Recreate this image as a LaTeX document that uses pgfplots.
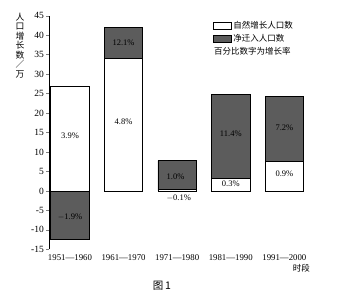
\documentclass[border=0pt]{standalone}
\usepackage{fontspec}
\setmainfont{Liberation Serif}
\newfontfamily\cjk{Noto Sans CJK SC}
\usepackage{pgfplots}
\pgfplotsset{compat=1.18}
\definecolor{mig}{gray}{0.36}
\begin{document}
\begin{tikzpicture}
\useasboundingbox (0pt,0pt) rectangle (360pt,298pt);
\begin{axis}[
  at={(49.3pt,48.7pt)}, anchor=south west,
  x=53.6pt, y=3.89pt,
  xmin=-0.386, xmax=4.6, ymin=-15, ymax=45,
  axis lines*=left,
  x axis line style={draw=none},
  xtick={0,1,2,3,4},
  xticklabels={1951—1960,1961—1970,1971—1980,1981—1990,1991—2000},
  xtick style={draw=none},
  ytick={-15,-10,...,45},
  tick align=outside,
  major tick length=3pt,
  ytick style={line width=0.6pt},
  axis line style={line width=0.7pt},
  /pgf/number format/assume math mode=true,
  yticklabel style={font=\fontsize{9.5}{10}\selectfont, xshift=1pt},
  xticklabel style={font=\fontsize{8.8}{10}\selectfont, yshift=1pt},
  clip=false,
  ybar, bar width=38.5pt, bar shift=0pt,
  legend style={at={(0.612,0.985)}, anchor=north west, draw=none, fill=none,
    inner sep=0pt, row sep=2pt, font=\cjk\fontsize{8.5}{9}\selectfont,
    nodes={inner sep=1.5pt}},
  legend cell align=left,
]
\addlegendimage{legend image code/.code={\draw[fill=white,draw=black,line width=0.7pt] (0pt,-3.5pt) rectangle (18pt,3.5pt);}}
\addlegendentry{自然增长人口数}
\addlegendimage{legend image code/.code={\draw[fill=mig,draw=black,line width=0.7pt] (0pt,-3.5pt) rectangle (18pt,3.5pt);}}
\addlegendentry{净迁入人口数}
% total (natural + net in-migration), dark
\addplot[forget plot, fill=mig, draw=black, line width=0.8pt]
  coordinates {(0,-12.5) (1,42) (2,7.8) (3,24.8) (4,24.4)};
% natural increase, white
\addplot[forget plot, fill=white, draw=black, line width=0.8pt]
  coordinates {(0,27) (1,34) (2,0.4) (3,3.1) (4,7.5)};
\begin{scope}[every node/.style={font=\fontsize{8.5}{10}\selectfont, inner sep=0pt}]
\node at (axis cs:0,14.1) {3.9\%};
\node at (axis cs:0,-6.6) {$-$1.9\%};
\node at (axis cs:1,17.8) {4.8\%};
\node at (axis cs:1,38) {12.1\%};
\node at (axis cs:1.97,3.7) {1.0\%};
\node at (axis cs:2.03,-1.9) {$-$0.1\%};
\node at (axis cs:3,14.8) {11.4\%};
\node at (axis cs:3,1.8) {0.3\%};
\node at (axis cs:4,16.2) {7.2\%};
\node at (axis cs:4,4.3) {0.9\%};
\end{scope}
\node[anchor=west, inner sep=0pt, font=\cjk\fontsize{8.5}{9}\selectfont] at (axis cs:2.687,35.86) {百分比数字为增长率};
\node[anchor=north east, inner sep=0pt, font=\cjk\fontsize{8.5}{9}\selectfont] at (axis cs:4.478,-18.9) {时段};
\end{axis}
\node[font=\cjk\fontsize{8.8}{9.5}\selectfont, align=center, inner sep=0pt] at (20pt,252.7pt)
  {人\\口\\增\\长\\数\\／\\万};
\node[font=\cjk\fontsize{10.5}{12}\selectfont, inner sep=0pt] at (162pt,12pt) {图\,1};
\end{tikzpicture}
\end{document}
